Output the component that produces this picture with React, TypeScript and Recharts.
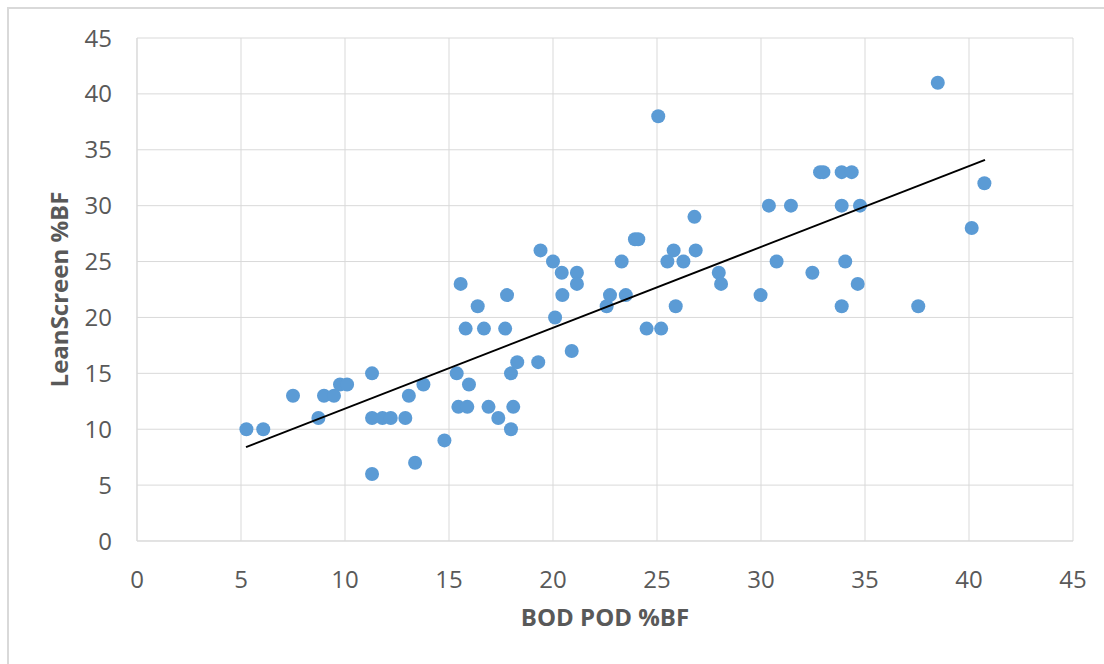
import { ScatterChart, Scatter, XAxis, YAxis, CartesianGrid } from "recharts"

// BOD POD %BF (x) vs LeanScreen %BF (y)
const bodPod = [
  5.26, 6.07, 7.5, 8.72, 8.99, 9.47, 9.76, 10.1, 11.3, 11.3, 11.8, 12.2, 12.9,
  13.07, 13.77, 11.3, 13.37, 14.78, 15.37, 15.96, 15.45, 15.88, 16.9, 15.56,
  16.38, 15.8, 16.68, 17.7, 17.79, 17.37, 18.09, 17.98, 17.98, 18.28, 19.29,
  19.4, 20.0, 20.42, 21.15, 21.15, 20.45, 20.1, 20.9, 22.58, 22.74, 23.5, 23.3,
  23.94, 24.1, 24.5, 25.2, 25.06, 25.5, 25.8, 26.27, 25.9, 26.8, 26.86, 27.97,
  28.08, 29.98, 30.38, 30.75, 31.44, 32.84, 33.0, 33.88, 34.36, 33.88, 34.76,
  32.47, 34.05, 34.65, 33.88, 37.56, 38.5, 40.13, 40.74,
]
const leanScreen = [
  10, 10, 13, 11, 13, 13, 14, 14, 15, 11, 11, 11, 11,
  13, 14, 6, 7, 9, 15, 14, 12, 12, 12, 23,
  21, 19, 19, 19, 22, 11, 12, 10, 15, 16, 16,
  26, 25, 24, 24, 23, 22, 20, 17, 21, 22, 22, 25,
  27, 27, 19, 19, 38, 25, 26, 25, 21, 29, 26, 24,
  23, 22, 30, 25, 30, 33, 33, 33, 33, 30, 30,
  24, 25, 23, 21, 21, 41, 28, 32,
]

// linear trendline ends as drawn
const trendX = [5.24, 40.77]
const trendY = [8.4, 34.1]

const axisTicks = [0, 5, 10, 15, 20, 25, 30, 35, 40, 45]

const points = bodPod.map((x, i) => ({ x, y: leanScreen[i] }))
const trend = trendX.map((x, i) => ({ x, y: trendY[i] }))

const font = "'Open Sans', 'DejaVu Sans', sans-serif"
const textGray = "#595959"
const gridGray = "#d9d9d9"

const noShape = () => <g />

function XTitle(props: any) {
  const vb = props.viewBox
  return (
    <text
      x={vb.x + vb.width / 2}
      y={vb.y + 85}
      textAnchor="middle"
      fill={textGray}
      fontFamily={font}
      fontWeight="bold"
      fontSize={24}
    >
      BOD POD %BF
    </text>
  )
}

function YTitle(props: any) {
  const vb = props.viewBox
  const cx = 58
  const cy = vb.y + vb.height / 2
  return (
    <text
      x={cx}
      y={cy}
      transform={`rotate(-90, ${cx}, ${cy})`}
      textAnchor="middle"
      dominantBaseline="central"
      fill={textGray}
      fontFamily={font}
      fontWeight="bold"
      fontSize={24}
    >
      LeanScreen %BF
    </text>
  )
}

export default function App() {
  const tickStyle = { fill: textGray, fontSize: 24, fontFamily: font }
  return (
    <div style={{ position: "absolute", left: 0, top: 0, width: 1104, height: 664, background: "#fff", overflow: "hidden" }}>
      {/* chart frame, only top and left edges show */}
      <div
        style={{
          position: "absolute",
          left: 7,
          top: 7,
          width: 1120,
          height: 680,
          borderTop: `2px solid ${gridGray}`,
          borderLeft: `2px solid ${gridGray}`,
        }}
      />
      <div style={{ position: "absolute", left: 0, top: 0 }}>
        <ScatterChart width={1104} height={664} margin={{ top: 38, right: 31, bottom: 0, left: 0 }}>
          <CartesianGrid stroke={gridGray} strokeWidth={1} />
          <XAxis
            type="number"
            dataKey="x"
            domain={[0, 45]}
            ticks={axisTicks}
            interval={0}
            height={123}
            tickSize={0}
            tickMargin={30}
            axisLine={{ stroke: gridGray }}
            tickLine={false}
            tick={tickStyle}
            label={<XTitle />}
          />
          <YAxis
            type="number"
            dataKey="y"
            domain={[0, 45]}
            ticks={axisTicks}
            interval={0}
            width={137}
            tickSize={0}
            tickMargin={25}
            axisLine={{ stroke: gridGray }}
            tickLine={false}
            tick={tickStyle}
            label={<YTitle />}
          />
          <Scatter data={points} fill="#5b9bd5" isAnimationActive={false} shape={(p: any) => <circle cx={p.cx} cy={p.cy} r={7} fill="#5b9bd5" />} />
          <Scatter
            data={trend}
            line={{ stroke: "#000", strokeWidth: 2 }}
            shape={noShape}
            isAnimationActive={false}
          />
        </ScatterChart>
      </div>
    </div>
  )
}
